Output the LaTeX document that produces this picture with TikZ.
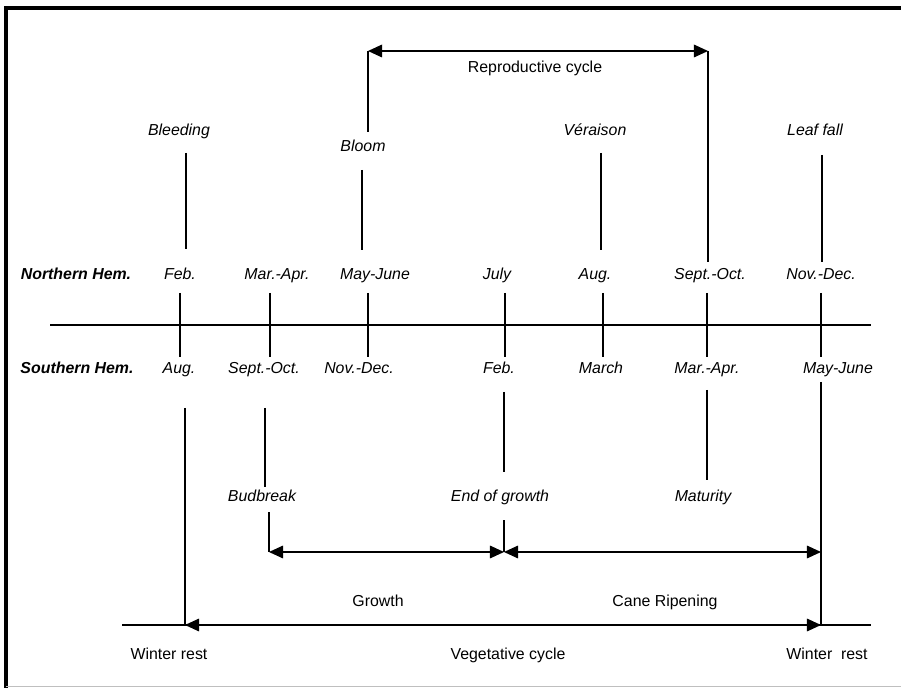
\documentclass[tikz,border=0pt]{standalone}
\usepackage{fontspec}
\setmainfont{Liberation Sans}
\usetikzlibrary{arrows.meta}

\begin{document}
\begin{tikzpicture}[
  x=0.025cm, y=-0.025cm,
  font=\fontsize{11.3}{13.5}\selectfont,
  label/.style={inner sep=0pt,text height=8.1pt,text depth=2.3pt},
  month/.style={label,font=\fontsize{11.3}{13.5}\selectfont\itshape},
  hem/.style={label,font=\fontsize{11.3}{13.5}\selectfont\bfseries\itshape},
  rule/.style={line width=0.9pt},
  arrow/.style={rule,{Triangle[length=10pt,width=9pt]}-{Triangle[length=10pt,width=9pt]}},
]
\useasboundingbox (0,0) rectangle (901,688);
% frame
\draw[line width=2.2pt] (6,688) -- (6,8) -- (901,8);
\draw[black!25,line width=0.6pt] (6,686) -- (901,686);

% month axis
\coordinate (axw) at (50,325);
\coordinate (axe) at (871,325);
\draw[rule] (axw) -- (axe);
\foreach \x in {180,270,368,505,603,707,821}
  \draw[rule] (\x,293) -- (\x,357);

% hemisphere rows
\node[hem] (north) at (76,275) {Northern Hem.};
\node[hem] (south) at (77,369) {Southern Hem.};
\node[month] (nfeb)  at (180,275) {Feb.};
\node[month] (nmar)  at (277,275) {Mar.-Apr.};
\node[month] (nmay)  at (375,275) {May-June};
\node[month] (njul)  at (497,275) {July};
\node[month] (naug)  at (595,275) {Aug.};
\node[month] (nsep)  at (710,275) {Sept.-Oct.};
\node[month] (nnov)  at (821,275) {Nov.-Dec.};
\node[month] (saug)  at (179,369) {Aug.};
\node[month] (ssep)  at (264,369) {Sept.-Oct.};
\node[month] (snov)  at (359,369) {Nov.-Dec.};
\node[month] (sfeb)  at (499,369) {Feb.};
\node[month] (smar)  at (601,369) {March};
\node[month] (sapr)  at (707,369) {Mar.-Apr.};
\node[month] (smay)  at (838,369) {May-June};

% stages above the axis
\node[month] (bleed)  at (179,131) {Bleeding};
\node[month] (bloom)  at (363,147) {Bloom};
\node[month] (verai)  at (595,131) {Véraison};
\node[month] (leaf)   at (815,131) {Leaf fall};
\coordinate (bleedtop) at (186,153);
\coordinate (bleedbot) at (186,249);
\coordinate (bloomtop) at (362,170);
\coordinate (bloombot) at (362,250);
\coordinate (veraitop) at (601,153);
\coordinate (veraibot) at (601,250);
\coordinate (leaftop)  at (822,155);
\coordinate (leafbot)  at (822,262);
\draw[rule] (bleedtop) -- (bleedbot);
\draw[rule] (bloomtop) -- (bloombot);
\draw[rule] (veraitop) -- (veraibot);
\draw[rule] (leaftop) -- (leafbot);

% reproductive cycle
\coordinate (repa) at (368,132);
\coordinate (repb) at (368,51);
\coordinate (repc) at (708,51);
\coordinate (repd) at (708,262);
\draw[rule] (repa) -- (repb);
\draw[arrow] (repb) -- (repc);
\draw[rule] (repc) -- (repd);
\node[label] (repro) at (535,68) {Reproductive cycle};

% stages below the axis
\node[month] (bud)    at (262,497) {Budbreak};
\node[month] (endgr)  at (500,497) {End of growth};
\node[month] (matur)  at (703,497) {Maturity};
\coordinate (budtop)  at (265,408);
\coordinate (budmid)  at (265,487);
\coordinate (budlow)  at (269,512);
\coordinate (budend)  at (269,552);
\coordinate (endtop)  at (504,392);
\coordinate (endmid)  at (504,472);
\coordinate (endlow)  at (504,520);
\coordinate (endend)  at (504,552);
\coordinate (mattop)  at (707,390);
\coordinate (matbot)  at (707,480);
\draw[rule] (budtop) -- (budmid);
\draw[rule] (budlow) -- (budend);
\draw[rule] (endtop) -- (endmid);
\draw[rule] (endlow) -- (endend);
\draw[rule] (mattop) -- (matbot);

% growth and cane ripening
\coordinate (ripend) at (821,552);
\draw[arrow] (budend) -- (endend);
\draw[arrow] (endend) -- (ripend);
\node[label] (growth) at (378,602) {Growth};
\node[label] (ripen)  at (665,602) {Cane Ripening};

% vegetative cycle
\coordinate (restwtop) at (185,408);
\coordinate (restw)    at (185,625);
\coordinate (restetop) at (821,382);
\coordinate (reste)    at (821,625);
\coordinate (vegw)     at (122,625);
\coordinate (vege)     at (871,625);
\draw[rule] (vegw) -- (vege);
\draw[rule] (restwtop) -- (restw);
\draw[rule] (restetop) -- (reste);
\draw[arrow] (restw) -- (reste);
\node[label] (winterw) at (169,655) {Winter rest};
\node[label] (veget)   at (508,655) {Vegetative cycle};
\node[label] (wintere) at (827,655) {Winter\ \ rest};
\end{tikzpicture}
\end{document}
